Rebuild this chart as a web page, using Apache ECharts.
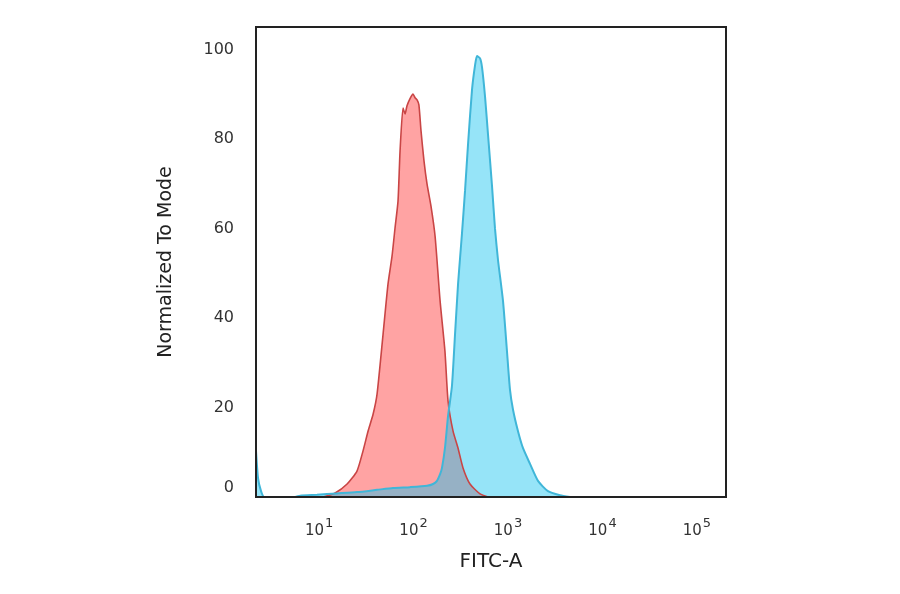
<!DOCTYPE html>
<html>
<head>
<meta charset="utf-8">
<script src="https://cdn.jsdelivr.net/npm/echarts@6/dist/echarts.min.js"></script>
<style>
  html, body { margin: 0; padding: 0; background: #fff; }
  #container { width: 900px; height: 594px; }
</style>
</head>
<body>
<div id="container"></div>
<script>
var dom = document.getElementById("container");
var myChart = echarts.init(dom);

// isotype control (red), FITC-A intensity vs % of mode
var isoX = [11.0, 14.8, 19.8, 25.2, 29.2, 33.0, 37.3, 41.1, 47.6, 53.7, 59.2, 63.7, 68.5, 72, 77.4,
    81.3, 85.3, 91.8, 98.8, 103.8, 109, 114, 120, 129, 139, 153, 169, 191, 215, 232, 262, 296,
    334, 396, 506, 614];
var isoY = [0, 0.9, 2.9, 5.8, 10.3, 14.7, 18.5, 23.0, 36.4, 47.6, 53.8, 60.1, 66.1, 77.3, 86.9,
    85.6, 87.4, 89.0, 90.0, 89.2, 88.7, 87.6, 81.8, 75.1, 69.9, 65.0, 58.3, 43.8, 32.6, 21.4, 14.7, 10.9,
    6.5, 2.9, 0.7, 0];

// stained sample (cyan)
var stainX = [2.15, 2.26, 2.43, 2.62, 5.57, 6.3, 9.5, 15.5, 25.2, 41.1, 60.7, 91.8, 139, 161, 177,
    191, 200, 215, 232, 255, 275, 296, 311, 326, 351, 378, 416, 448, 470, 506, 531, 571, 614,
    677, 728, 783, 885, 975, 1049, 1130, 1276, 1442, 1710, 2077, 2648, 3548, 4529];
var stainY = [10.3, 4.2, 1.3, 0, 0, 0.3, 0.5, 0.8, 1.1, 1.6, 2.0, 2.2, 2.5, 2.9, 3.6,
    5.1, 6.5, 10.9, 18.1, 24.8, 36.4, 47.6, 53.5, 59.0, 68.5, 79.0, 91.0, 96.5, 98.5, 98.0, 96.0, 89.5, 81.0,
    69.5, 60.0, 53.0, 43.8, 32.6, 24.0, 19.5, 14.7, 10.9, 7.4, 3.6, 1.3, 0.4, 0];

var yTicks = [0, 20, 40, 60, 80, 100];
var xDecades = [1, 2, 3, 4, 5];

function pairs(xs, ys) {
    var res = [];
    for (var i = 0; i < xs.length; i++) {
        res.push([xs[i], ys[i]]);
    }
    return res;
}

var font = 'DejaVu Sans';

myChart.setOption({
    animation: false,
    grid: {
        left: 256, right: 174, top: 27, bottom: 97,
        show: true,
        z: 10,
        backgroundColor: 'transparent',
        borderColor: '#222',
        borderWidth: 2
    },
    xAxis: {
        type: 'log',
        logBase: 10,
        min: 2.15,
        max: 203000,
        name: 'FITC-A',
        nameLocation: 'middle',
        nameGap: 55,
        nameTextStyle: { fontFamily: font, fontSize: 20, color: '#222' },
        axisLine: { show: false },
        axisTick: { show: false },
        splitLine: { show: false },
        axisLabel: {
            margin: 20,
            formatter: function (v) {
                var n = Math.round(Math.log10(v));
                if (Math.abs(Math.log10(v) - n) > 0.01 || xDecades.indexOf(n) < 0) return '';
                return '{b|10}{s|' + n + '}';
            },
            rich: {
                b: { fontFamily: font, fontSize: 15, color: '#333' },
                s: { fontFamily: font, fontSize: 13, color: '#333', padding: [0, 0, 15, 1] }
            }
        }
    },
    yAxis: {
        type: 'value',
        min: 0,
        max: 105,
        interval: 20,
        name: 'Normalized To Mode',
        nameLocation: 'middle',
        nameGap: 80,
        nameTextStyle: { fontFamily: font, fontSize: 19, color: '#222' },
        axisLine: { show: false },
        axisTick: { show: false },
        splitLine: { show: false },
        axisLabel: {
            margin: 22,
            formatter: function (v) {
                if (yTicks.indexOf(v) < 0) return '';
                return v === 0 ? '{z|0}' : '{n|' + v + '}';
            },
            rich: {
                n: { fontFamily: font, fontSize: 16, color: '#333' },
                z: { fontFamily: font, fontSize: 16, color: '#333', padding: [0, 0, 18, 0] }
            }
        }
    },
    series: [
        {
            name: 'isotype',
            type: 'line',
            data: pairs(isoX, isoY),
            showSymbol: false,
            smooth: 0.2,
            lineStyle: { color: '#c94545', width: 1.6 },
            areaStyle: { color: '#ffa3a3', opacity: 1 }
        },
        {
            name: 'stained',
            type: 'line',
            data: pairs(stainX, stainY),
            showSymbol: false,
            smooth: 0.2,
            lineStyle: { color: '#40b6d8', width: 2 },
            areaStyle: { color: 'rgb(22,195,239)', opacity: 0.45 }
        }
    ]
});
</script>
</body>
</html>
